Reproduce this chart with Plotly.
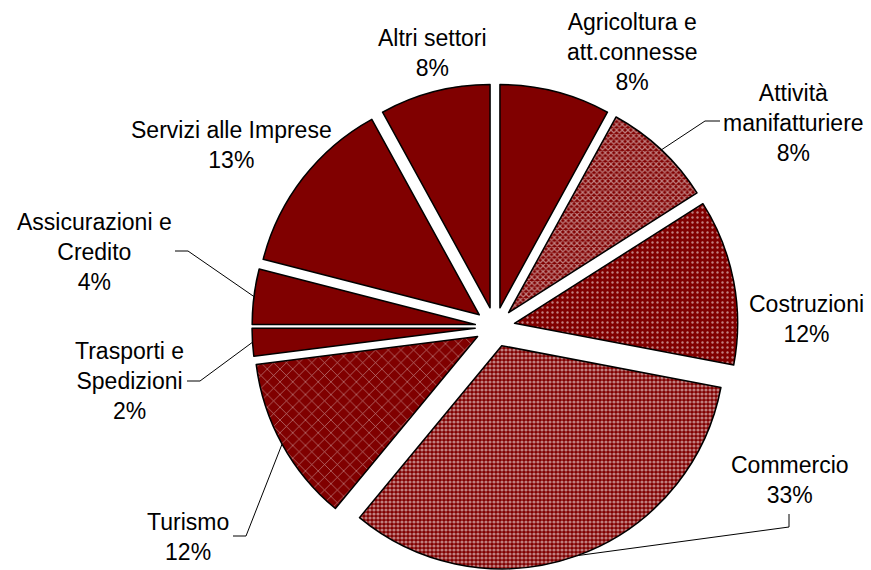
import math
import plotly.graph_objects as go

# ---- data ----
labels = ["Agricoltura e<br>att.connesse", "Attività<br>manifatturiere", "Costruzioni",
          "Commercio", "Turismo", "Trasporti e<br>Spedizioni", "Assicurazioni e<br>Credito",
          "Servizi alle Imprese", "Altri settori"]
values = [8, 8, 12, 33, 12, 2, 4, 13, 8]

# ---- styles / layout constants ----
W, H = 871, 570
MAROON = "#800000"
pattern_shapes = ["", "x", ".", ".", "x", "", "", "", ""]
pattern_sizes = [8, 4, 5, 4, 9, 8, 8, 8, 8]
pattern_solidity = [0.3, 0.5, 0.18, 0.5, 0.15, 0.3, 0.3, 0.3, 0.3]
PULL = 0.089
CX, CY, HALF = 495, 327, 243      # pie centre / half-size in pixels
FONT = dict(family="Liberation Sans, Arial, sans-serif", size=23, color="black")

# label block centres (pixels) and leader-line label-side points
label_pos = [(632, 52), (793, 123), (806, 319), (790, 480), (188, 537),
             (129, 381), (94, 252), (231, 145), (432, 53)]
leader_start = {1: [(720, 121), (705, 121)], 3: [(789, 514), (789, 527)],
                4: [(233, 536), (246, 536)], 5: [(187, 381), (200, 381)],
                6: [(175, 251), (188, 251)]}

fig = go.Figure(go.Pie(
    labels=labels, values=values, sort=False, direction="clockwise", rotation=0,
    pull=[PULL] * len(values), textinfo="none", hoverinfo="label+percent",
    domain=dict(x=[(CX - HALF) / W, (CX + HALF) / W],
                y=[max(0, 1 - (CY + HALF) / H), 1 - (CY - HALF) / H]),
    marker=dict(colors=[MAROON] * len(values), line=dict(color="black", width=1.5),
                pattern=dict(shape=pattern_shapes, size=pattern_sizes, solidity=pattern_solidity,
                             fgcolor="white", fillmode="overlay")),
))

def px2paper(x, y):
    return x / W, 1 - y / H

total = sum(values)
R_full = HALF  # radius incl. pull
cum = 0
mids = []
for v in values:
    mids.append((cum + v / 2) / total * 360)
    cum += v

annotations = []
shapes = []
for i, (lab, v) in enumerate(zip(labels, values)):
    x, y = px2paper(*label_pos[i])
    pct = round(v / total * 100)
    annotations.append(dict(text=f"{lab}<br>{pct}%", x=x, y=y, xref="paper", yref="paper",
                            xanchor="center", yanchor="middle", showarrow=False, font=FONT))
    if i in leader_start:
        a = math.radians(mids[i])
        ex, ey = CX + R_full * math.sin(a), CY - R_full * math.cos(a)
        pts = leader_start[i] + [(ex, ey)]
        path = "M " + " L ".join(f"{px2paper(px, py)[0]},{px2paper(px, py)[1]}" for px, py in pts)
        shapes.append(dict(type="path", path=path, xref="paper", yref="paper",
                           line=dict(color="black", width=1)))

fig.update_layout(width=W, height=H, margin=dict(l=0, r=0, t=0, b=0), showlegend=False,
                  paper_bgcolor="white", plot_bgcolor="white",
                  annotations=annotations, shapes=shapes)
fig.write_html("out.html", config={"displayModeBar": False},
               post_script="document.body.style.margin='0';")
